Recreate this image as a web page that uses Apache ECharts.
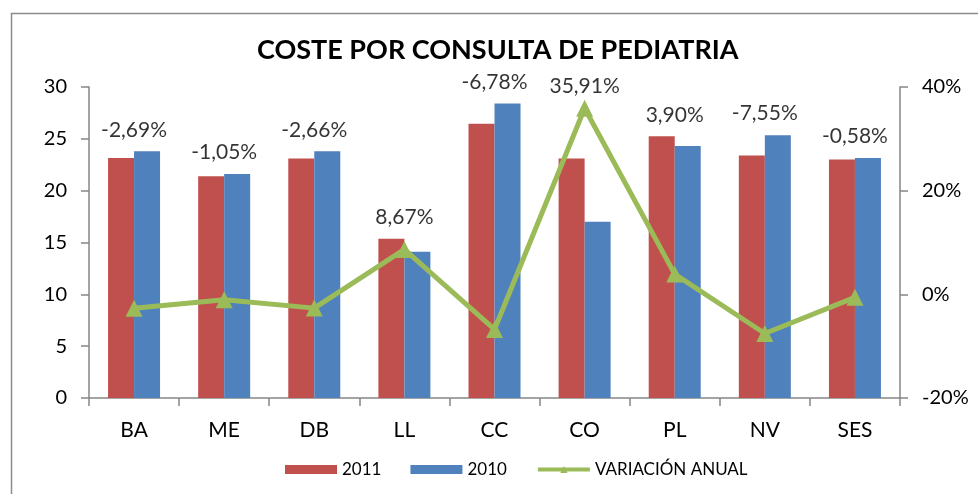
<!DOCTYPE html>
<html>
<head>
<meta charset="utf-8">
<script src="https://cdn.jsdelivr.net/npm/echarts@6/dist/echarts.min.js"></script>
<style>
html,body{margin:0;padding:0;background:#fff;}
#c{width:978px;height:494px;}
</style>
</head>
<body>
<div id="c"></div>
<script>
const categories = ['BA','ME','DB','LL','CC','CO','PL','NV','SES'];
const values2011 = [23.15, 21.4, 23.1, 15.35, 26.45, 23.1, 25.25, 23.4, 23.0];
const values2010 = [23.8, 21.6, 23.8, 14.1, 28.4, 17.0, 24.3, 25.35, 23.15];
const variation = [-2.69, -1.05, -2.66, 8.67, -6.78, 35.91, 3.90, -7.55, -0.58];
const leftTicks = {min: 0, max: 30, interval: 5};
const rightTicks = {min: -20, max: 40, interval: 20};

const FONT = 'Lato, "Open Sans", sans-serif';
// label anchors: highest of the marks in each category, expressed on the left axis
const anchors = categories.map((c, i) => {
  const lineOnLeft = (variation[i] - rightTicks.min) / (rightTicks.max - rightTicks.min) * (leftTicks.max - leftTicks.min) + leftTicks.min;
  return Math.max(values2011[i], values2010[i], lineOnLeft);
});
const fmt = v => v.toFixed(2).replace('.', ',') + '%';

const chart = echarts.init(document.getElementById('c'));
chart.setOption({
  animation: false,
  backgroundColor: '#fff',
  textStyle: {fontFamily: FONT},
  graphic: [{
    type: 'rect', left: 9, top: 11, shape: {width: 1000, height: 500},
    style: {fill: 'none', stroke: '#8c8c8c', lineWidth: 1.5}, silent: true, z: -1
  }],
  title: {
    text: 'COSTE POR CONSULTA DE PEDIATRIA',
    left: 257, top: 37, padding: 0,
    textStyle: {fontFamily: FONT, fontSize: 27, fontWeight: 'bold', color: '#000'}
  },
  legend: {
    left: 280, top: 456,
    itemWidth: 52, itemHeight: 9, itemGap: 29,
    textStyle: {fontFamily: FONT, fontSize: 17, color: '#000'},
    data: [
      {name: '2011', icon: 'rect'},
      {name: '2010', icon: 'rect'},
      {name: 'VARIACIÓN ANUAL', lineStyle: {width: 4}}
    ]
  },
  grid: {left: 89, right: 78, top: 87, bottom: 96},
  xAxis: {
    type: 'category', data: categories,
    axisLine: {lineStyle: {color: '#868686', width: 1.5}},
    axisTick: {show: true, length: 8, lineStyle: {color: '#868686', width: 1.5}},
    axisLabel: {color: '#000', fontSize: 21, fontFamily: FONT, margin: 22}
  },
  yAxis: [{
    type: 'value', min: leftTicks.min, max: leftTicks.max, interval: leftTicks.interval,
    axisLine: {show: true, lineStyle: {color: '#868686', width: 1.5}},
    axisTick: {show: true, length: 8, lineStyle: {color: '#868686', width: 1.5}},
    splitLine: {show: false},
    axisLabel: {color: '#000', fontSize: 20, fontFamily: FONT, margin: 22}
  }, {
    type: 'value', min: rightTicks.min, max: rightTicks.max, interval: rightTicks.interval,
    axisLine: {show: true, lineStyle: {color: '#868686', width: 1.5}},
    axisTick: {show: true, length: 8, lineStyle: {color: '#868686', width: 1.5}},
    splitLine: {show: false},
    axisLabel: {color: '#000', fontSize: 20, fontFamily: FONT, margin: 22, formatter: '{value}%'}
  }],
  series: [{
    name: '2011', type: 'bar', data: values2011, barWidth: 26, barGap: '0%',
    itemStyle: {color: '#C0504D'}
  }, {
    name: '2010', type: 'bar', data: values2010, barWidth: 26,
    itemStyle: {color: '#4F81BD'}
  }, {
    name: 'VARIACIÓN ANUAL', type: 'line', yAxisIndex: 1, data: variation,
    symbol: 'triangle', symbolSize: 17,
    lineStyle: {color: '#9BBB59', width: 5},
    itemStyle: {color: '#9BBB59'}, z: 5
  }, {
    name: 'labels', type: 'scatter', yAxisIndex: 0, data: anchors,
    symbolSize: 0, silent: true,
    label: {
      show: true, position: 'top', distance: 11,
      fontSize: 21, fontFamily: FONT, color: '#000',
      formatter: p => fmt(variation[p.dataIndex])
    }, z: 6
  }]
});
</script>
</body>
</html>
